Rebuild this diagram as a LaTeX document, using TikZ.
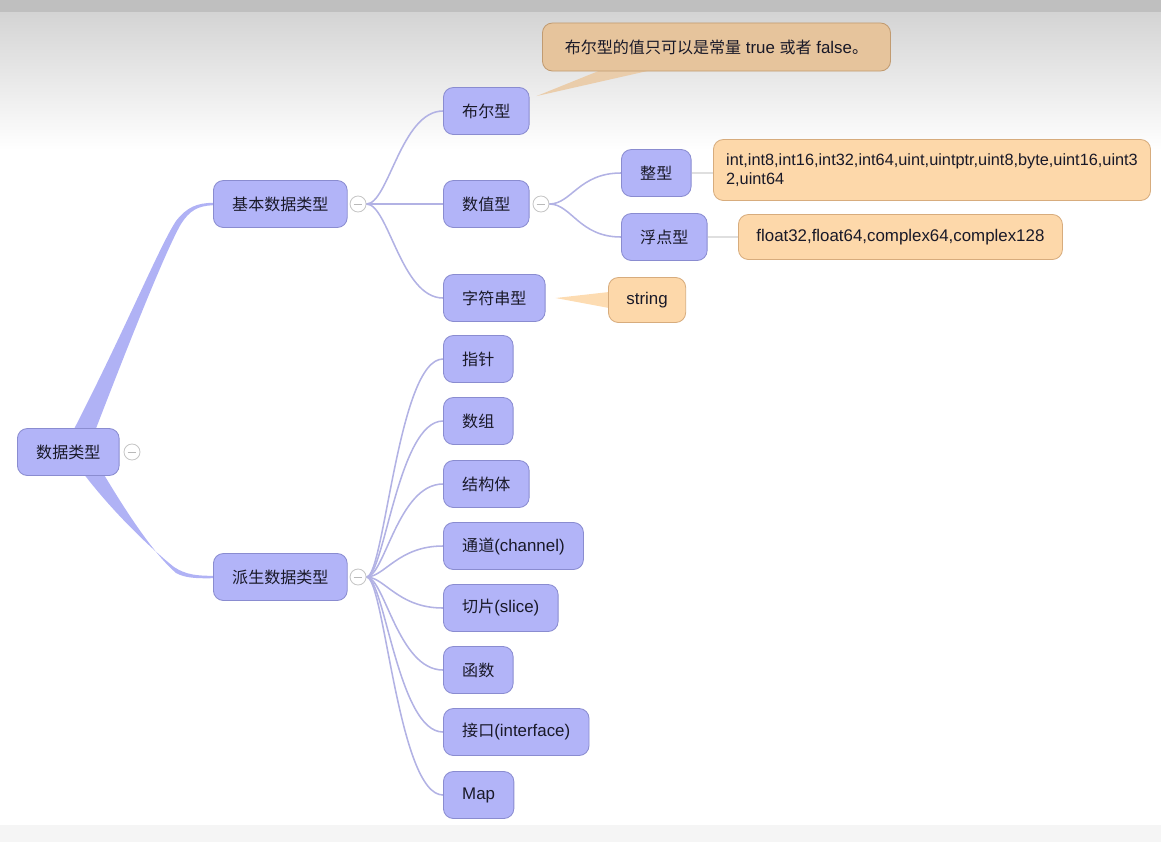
\documentclass[tikz,border=0pt]{standalone}
\usepackage{fontspec}
\setmainfont{Liberation Sans}
\newfontfamily\cjk[Scale=0.95]{Noto Sans CJK SC}
\usetikzlibrary{positioning,calc,shapes.misc,backgrounds}
\pgfdeclarelayer{edgelayer}
\pgfdeclarelayer{nodelayer}
\pgfsetlayers{background,edgelayer,nodelayer,main}
\definecolor{bnfill}{RGB}{178,180,248}
\definecolor{bnline}{RGB}{138,140,208}
\definecolor{edgecol}{RGB}{178,178,228}
\definecolor{bandcol}{RGB}{176,178,245}
\definecolor{onfill}{RGB}{253,216,170}
\definecolor{online}{RGB}{215,172,125}
\definecolor{notefill}{RGB}{230,196,156}
\definecolor{txt}{RGB}{25,25,40}
\tikzstyle{bn}=[rounded corners=0.25cm,fill=bnfill,draw=bnline,line width=0.6pt,minimum height=1.175cm,inner xsep=0.47cm,anchor=west,text=txt,font=\fontsize{12}{14}\selectfont]
\tikzstyle{on}=[rounded corners=0.25cm,fill=onfill,draw=online,line width=0.6pt,minimum height=1.125cm,inner xsep=0.45cm,anchor=west,text=txt,font=\fontsize{12}{14}\selectfont]
\tikzstyle{note}=[on,fill=notefill,draw=online!90!black]
\tikzstyle{fold}=[circle,draw=gray!45,fill=white,line width=0.6pt,minimum size=0.4cm,inner sep=0pt,
  path picture={\draw[gray!55,line width=0.6pt] ([xshift=-0.11cm]path picture bounding box.center) -- ([xshift=0.11cm]path picture bounding box.center);}]
\tikzstyle{edge}=[draw=edgecol,line width=1.1pt]
\tikzstyle{band}=[fill=bandcol]
\tikzstyle{hint}=[draw=gray!25,line width=1pt]

\begin{document}
\begin{tikzpicture}[x=0.025cm,y=-0.025cm]
	\useasboundingbox (0,0) rectangle (1161,842);
	\begin{pgfonlayer}{background}
		% background
		\fill[black!25] (0,0) rectangle (1161,12);
		\shade[top color=black!17,bottom color=white] (0,12) rectangle (1161,150);
		\fill[black!4] (0,825) rectangle (1161,842);
	\end{pgfonlayer}
	\begin{pgfonlayer}{nodelayer}
		\node [style=bn] (root) at (17,452) {\cjk 数据类型};
		\node [style=fold, right=0.1cm of root] (rootfold) {};
		\node [style=bn] (basic) at (213,204) {\cjk 基本数据类型};
		\node [style=fold, right=0.05cm of basic] (basicfold) {};
		\node [style=bn] (derived) at (213,577) {\cjk 派生数据类型};
		\node [style=fold, right=0.05cm of derived] (derivedfold) {};
		% basic types
		\node [style=bn] (bool) at (443,111) {\cjk 布尔型};
		\node [style=bn] (num) at (443,204) {\cjk 数值型};
		\node [style=fold, right=0.075cm of num] (numfold) {};
		\node [style=bn] (str) at (443,298) {\cjk 字符串型};
		\node [style=bn] (int) at (621,173) {\cjk 整型};
		\node [style=bn] (float) at (621,237) {\cjk 浮点型};
		% notes
		\node [style=note, minimum width=8.7cm, minimum height=1.2cm] (boolnote) at (542,47) {{\cjk 布尔型的值只可以是常量} true {\cjk 或者} false{\cjk 。}};
		\node [style=on, inner xsep=0.22cm, minimum width=10.925cm, minimum height=1.525cm, align=left, font=\fontsize{11.6}{14}\selectfont] (intnote) at (713,170) {int,int8,int16,int32,int64,uint,uintptr,uint8,byte,uint16,uint3\\2,uint64};
		\node [style=on] (floatnote) at (738,237) {float32,float64,complex64,complex128};
		\node [style=on] (strnote) at (608,300) {string};
		% derived types
		\node [style=bn] (ptr) at (443,359) {\cjk 指针};
		\node [style=bn] (arr) at (443,421) {\cjk 数组};
		\node [style=bn] (struct) at (443,484) {\cjk 结构体};
		\node [style=bn] (chan) at (443,546) {{\cjk 通道}(channel)};
		\node [style=bn] (slice) at (443,608) {{\cjk 切片}(slice)};
		\node [style=bn] (func) at (443,670) {\cjk 函数};
		\node [style=bn] (iface) at (443,732) {{\cjk 接口}(interface)};
		\node [style=bn] (map) at (443,795) {Map};
	\end{pgfonlayer}
	\begin{pgfonlayer}{edgelayer}
		% root bands
		\fill [style=band] ($(root.north west)+(56,3)$) .. controls (125,330) and (160,245) .. (176,221)
			.. controls (187,207) and (197,203) .. ($(basic.west)+(0,-1.2)$) -- ($(basic.west)+(0,1.2)$)
			.. controls (198,206) and (190,210) .. (181,224) .. controls (166,250) and (132,335) .. ($(root.north west)+(78,3)$) -- cycle;
		\fill [style=band] ($(root.south west)+(66,-3)$) .. controls (115,515) and (155,552) .. (174,567)
			.. controls (186,575) and (198,575.8) .. ($(derived.west)+(0,-1.2)$) -- ($(derived.west)+(0,1.2)$)
			.. controls (196,578.5) and (185,578) .. (176,573) .. controls (155,555) and (128,515) .. ($(root.south west)+(86,-3)$) -- cycle;
		% basic children
		\foreach \n in {bool,num,str}
			\draw [style=edge] (basicfold.east) .. controls +(22,0) and +(-42,0) .. (\n.west);
		\foreach \n in {int,float}
			\draw [style=edge] (numfold.east) .. controls +(22,0) and +(-42,0) .. (\n.west);
		% derived children
		\foreach \n in {ptr,arr,struct,chan,slice,func,iface,map}
			\draw [style=edge] (derivedfold.east) .. controls +(18,0) and +(-45,0) .. (\n.west);
		% note pointers
		\fill [fill=notefill!85!white] ($(bool.north east)+(7,9)$) -- ($(boolnote.south west)+(58,-1)$) -- ($(boolnote.south west)+(108,-1)$) -- cycle;
		\fill [fill=onfill!90!white] ($(str.east)+(10,0)$) -- ($(strnote.west)+(1,-8)$) -- ($(strnote.west)+(1,8)$) -- cycle;
		\draw [style=hint] (int.east) -- (intnote.west |- int.east);
		\draw [style=hint] (float.east) -- (floatnote.west);
	\end{pgfonlayer}
\end{tikzpicture}
\end{document}
